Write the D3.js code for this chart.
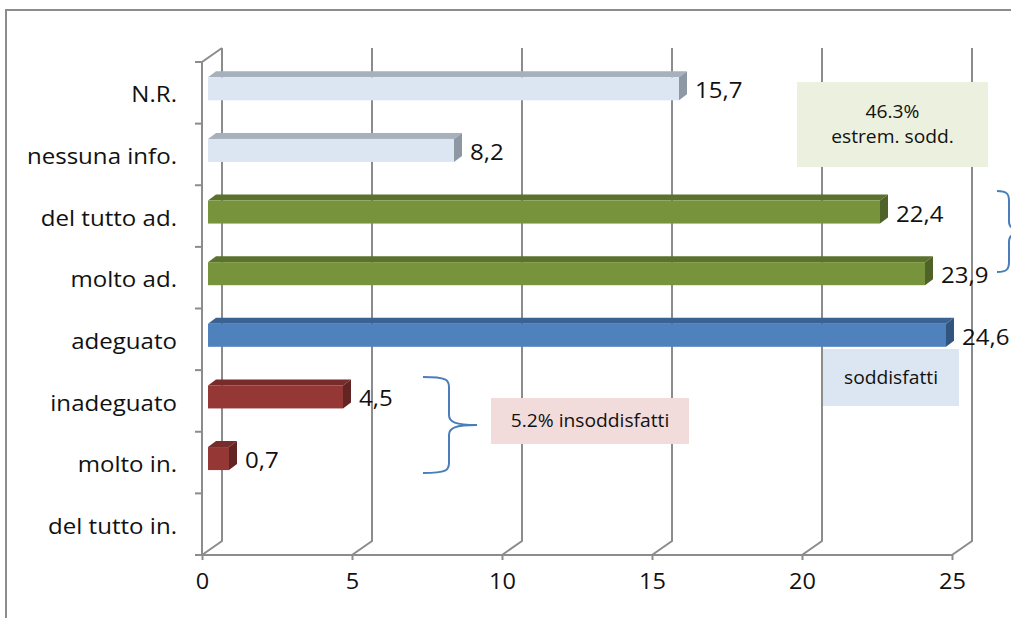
<!DOCTYPE html>
<html>
<head>
<meta charset="utf-8">
<script src="https://cdn.jsdelivr.net/npm/d3@7"></script>
<style>
  html, body { margin: 0; padding: 0; background: #fff; }
  svg { display: block; }
  text { font-family: "Open Sans", "Noto Sans", sans-serif; fill: #111; }
</style>
</head>
<body>
<svg id="chart" width="1011" height="618"></svg>
<script>
// Giudizio sull'informazione ricevuta (%)
const categories = ["N.R.", "nessuna info.", "del tutto ad.", "molto ad.", "adeguato", "inadeguato", "molto in.", "del tutto in."];
const values     = [15.7, 8.2, 22.4, 23.9, 24.6, 4.5, 0.7, 0];
const groups     = ["nr", "nr", "alto", "alto", "medio", "basso", "basso", "basso"];
const xTicks     = [0, 5, 10, 15, 20, 25];

// Note di commento
const noteSodd      = ["46.3%", "estrem. sodd."];
const noteMedio     = ["soddisfatti"];
const noteInsodd    = ["5.2% insoddisfatti"];

const palette = {
  nr:    { front: "#dce6f2", top: "#a7b1bc", side: "#8d98a4" },
  alto:  { front: "#77933c", top: "#5b722c", side: "#4f6228" },
  medio: { front: "#4f81bd", top: "#3b6392", side: "#325580" },
  basso: { front: "#953735", top: "#772b2a", side: "#632523" }
};

const svg = d3.select("#chart");
const itFmt = d3.formatLocale({ decimal: ",", thousands: ".", grouping: [3], currency: ["€", ""] }).format(".1f");

// Testo leggermente allargato in orizzontale attorno al punto di ancoraggio
const STRETCH = 1.12;
function widen(sel, s = STRETCH) {
  sel.each(function () {
    const t = d3.select(this);
    const ax = +t.attr("x") || 0, ay = +t.attr("y") || 0;
    const prev = t.attr("transform") || "";
    t.attr("transform", `${prev} translate(${ax},${ay}) scale(${s},1) translate(${-ax},${-ay})`);
  });
}

// Piani della scena 3D
const frontX0 = 202, frontX1 = 952, plotTop = 62, plotBottom = 555;
const wall = { dx: 20, dy: -14 };     // profondità delle pareti
const barOff = { dx: 6, dy: -4 };     // faccia frontale delle barre
const barDepth = { dx: 8, dy: -6 };   // spessore delle barre
const barH = 23;

const x = d3.scaleLinear().domain([0, 25]).range([frontX0, frontX1]);
const y = d3.scaleBand().domain(categories).range([plotTop, plotBottom]).padding(0);

const gridColor = "#8c8c8c";

// Cornice
svg.append("path")
  .attr("d", "M6,618 L6,10 L1011,10")
  .attr("fill", "none").attr("stroke", gridColor).attr("stroke-width", 2);

// Griglia verticale sulla parete di fondo, con raccordo sul pavimento
const grid = svg.append("g").attr("fill", "none").attr("stroke", gridColor).attr("stroke-width", 2);
xTicks.forEach(v => {
  const xf = x(v);
  grid.append("path").attr("d",
    `M${xf + wall.dx},${plotTop + wall.dy} L${xf + wall.dx},${plotBottom + wall.dy} L${xf},${plotBottom}`);
});

// Parete sinistra: spigolo frontale e raccordo in alto
grid.append("path").attr("d",
  `M${frontX0 + wall.dx},${plotTop + wall.dy} L${frontX0},${plotTop} L${frontX0},${plotBottom} L${frontX1},${plotBottom}`);

// Tacche sull'asse delle categorie (ai confini delle fasce)
const bounds = categories.map(c => y(c)).concat([plotBottom]);
grid.selectAll("line.ytick").data(bounds).join("line")
  .attr("class", "ytick")
  .attr("x1", frontX0 - 7).attr("x2", frontX0)
  .attr("y1", d => d).attr("y2", d => d);

// Asse dei valori
const xAxis = d3.axisBottom(x).tickValues(xTicks).tickSize(5).tickPadding(14).tickFormat(d3.format("d"));
const gx = svg.append("g").attr("transform", `translate(0,${plotBottom})`).call(xAxis);
gx.select(".domain").remove();
gx.selectAll(".tick line").attr("stroke", gridColor).attr("stroke-width", 2);
gx.selectAll(".tick text").style("font-size", "21px").attr("fill", "#111").call(widen);

// Etichette delle categorie
const yAxis = d3.axisLeft(y).tickSize(0).tickPadding(0);
const gy = svg.append("g").attr("transform", `translate(${frontX0 - 25},0)`).call(yAxis);
gy.select(".domain").remove();
gy.selectAll(".tick text").style("font-size", "21.5px").attr("fill", "#111").attr("dy", "0.45em").call(widen);

// Barre 3D
const data = categories.map((c, i) => ({ cat: c, value: values[i], group: groups[i] }));
const bars = svg.append("g");
const labels = svg.append("g");
data.filter(d => d.value > 0).forEach(d => {
  const col = palette[d.group];
  const cy = y(d.cat) + y.bandwidth() / 2 - 4;
  const x0 = x(0) + barOff.dx, x1 = x(d.value) + barOff.dx;
  const y0 = cy - barH / 2, y1 = cy + barH / 2;
  const g = bars.append("g");
  // faccia superiore
  g.append("path").attr("fill", col.top).attr("d",
    `M${x0},${y0} L${x0 + barDepth.dx},${y0 + barDepth.dy} L${x1 + barDepth.dx},${y0 + barDepth.dy} L${x1},${y0} Z`);
  // faccia laterale
  g.append("path").attr("fill", col.side).attr("d",
    `M${x1},${y0} L${x1 + barDepth.dx},${y0 + barDepth.dy} L${x1 + barDepth.dx},${y1 + barDepth.dy} L${x1},${y1} Z`);
  // faccia frontale
  g.append("rect").attr("fill", col.front)
    .attr("x", x0).attr("y", y0).attr("width", x1 - x0).attr("height", barH);
  // valore
  labels.append("text")
    .attr("x", x1 + barDepth.dx + 8)
    .attr("y", cy + 2)
    .attr("dy", "0.35em")
    .style("font-size", "21.5px")
    .text(itFmt(d.value))
    .call(widen);
});

// Riquadri di commento
function note(x0, y0, w, h, fill, lines, size, lineGap) {
  svg.append("rect").attr("x", x0).attr("y", y0).attr("width", w).attr("height", h).attr("fill", fill);
  const cy = y0 + h / 2 - (lines.length - 1) * lineGap / 2;
  lines.forEach((t, i) => {
    svg.append("text")
      .attr("x", x0 + w / 2).attr("y", cy + i * lineGap)
      .attr("dy", "0.35em").attr("text-anchor", "middle")
      .style("font-size", size + "px").attr("fill", "#222")
      .text(t)
      .call(widen, 1.1);
  });
}
note(797, 82, 191, 85, "#ebf1de", noteSodd, 17.5, 25);
note(823, 349, 136, 57, "#dce6f2", noteMedio, 17.5, 0);
note(491, 398, 198, 46, "#f2dcdb", noteInsodd, 17.5, 0);

// Parentesi graffe
function brace(xs, yTop, yBot, xv, xp) {
  const ym = (yTop + yBot) / 2;
  const r = 10;
  return `M${xs},${yTop} C${xv - 2},${yTop} ${xv},${yTop + 3} ${xv},${yTop + r}
          L${xv},${ym - r} C${xv},${ym - 3} ${xv + 6},${ym} ${xp},${ym}
          C${xv + 6},${ym} ${xv},${ym + 3} ${xv},${ym + r}
          L${xv},${yBot - r} C${xv},${yBot - 3} ${xv - 2},${yBot} ${xs},${yBot}`;
}
const braces = svg.append("g").attr("fill", "none").attr("stroke", "#4a7ebb").attr("stroke-width", 2);
braces.append("path").attr("d", brace(423, 377, 473, 449, 477));
braces.append("path").attr("d", brace(997, 191, 272, 1009, 1034));
</script>
</body>
</html>
